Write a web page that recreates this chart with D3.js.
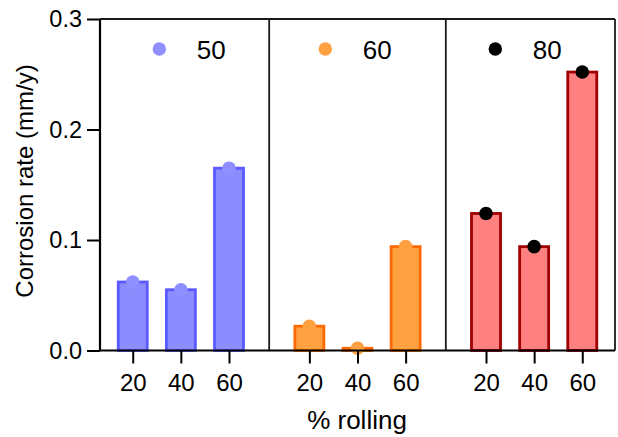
<!DOCTYPE html>
<html>
<head>
<meta charset="utf-8">
<script src="https://cdn.jsdelivr.net/npm/d3@7"></script>
<style>
  html, body { margin: 0; padding: 0; background: #fff; }
  svg { display: block; font-family: "Liberation Sans", Arial, Helvetica, sans-serif; }
</style>
</head>
<body>
<svg id="chart" width="618" height="437"></svg>
<script>
// Rolling reduction levels on the x axis, one group per temperature
const rolling = ["20", "40", "60"];
const temperatures = ["50", "60", "80"];

// Corrosion rate (mm/y) for each temperature group
const rate50 = [0.062, 0.055, 0.165];
const rate60 = [0.022, 0.002, 0.094];
const rate80 = [0.124, 0.094, 0.252];

const yTicks = [0, 0.1, 0.2, 0.3];

// Group styling
const styles = [
  { fill: "#8c8cff", stroke: "#5a5aff", dot: "#8f8fff" },
  { fill: "#ffa140", stroke: "#ff6a00", dot: "#ffa140" },
  { fill: "#ff8080", stroke: "#a00000", dot: "#000000" }
];

const series = [rate50, rate60, rate80];
const GROUP_STEP = 3.67;   // slot distance between groups (3 bars + gap)

const rows = [];
series.forEach((vals, g) => {
  vals.forEach((v, i) => rows.push({ group: g, idx: i, label: rolling[i], value: v, slot: g * GROUP_STEP + i }));
});

const svg = d3.select("#chart");
const plotL = 100, plotR = 615, plotT = 19, plotB = 350.5;

const x = d3.scaleLinear().domain([-0.68, 2 * GROUP_STEP + 2 + 0.68]).range([plotL, plotR]);
const y = d3.scaleLinear().domain([0, 0.3]).range([plotB, plotT]);
const barW = 29;

// Bars
svg.append("g").selectAll("rect").data(rows).join("rect")
  .attr("x", d => x(d.slot) - barW / 2)
  .attr("width", barW)
  .attr("y", d => y(d.value))
  .attr("height", d => y(0) - y(d.value))
  .attr("fill", d => styles[d.group].fill)
  .attr("stroke", d => styles[d.group].stroke)
  .attr("stroke-width", 2.8);

// Points at bar tops
svg.append("g").selectAll("circle").data(rows).join("circle")
  .attr("cx", d => x(d.slot))
  .attr("cy", d => y(d.value))
  .attr("r", 6.8)
  .attr("fill", d => styles[d.group].dot);

// Frame and group dividers
const frame = svg.append("g").attr("stroke", "#1a1a1a").attr("fill", "none");
frame.append("line").attr("x1", plotL).attr("x2", plotR).attr("y1", plotT).attr("y2", plotT).attr("stroke-width", 2);
frame.append("line").attr("x1", plotR).attr("x2", plotR).attr("y1", plotT).attr("y2", plotB).attr("stroke-width", 1.8);
[2 + (GROUP_STEP - 2) / 2, GROUP_STEP + 2 + (GROUP_STEP - 2) / 2].forEach(s => {
  frame.append("line").attr("x1", x(s)).attr("x2", x(s)).attr("y1", plotT).attr("y2", plotB).attr("stroke-width", 1.8);
});
frame.append("line").attr("x1", plotL).attr("x2", plotL).attr("y1", plotT).attr("y2", plotB).attr("stroke-width", 2.2).attr("stroke", "#000");
frame.append("line").attr("x1", plotL).attr("x2", plotR).attr("y1", plotB).attr("y2", plotB).attr("stroke-width", 2.2).attr("stroke", "#000");

// Y axis
const yAxis = svg.append("g").attr("transform", `translate(${plotL},0)`)
  .call(d3.axisLeft(y).tickValues(yTicks).tickFormat(d3.format(".1f")).tickSize(13).tickPadding(5));
yAxis.select(".domain").remove();
yAxis.selectAll(".tick line").attr("stroke", "#000").attr("stroke-width", 2);
yAxis.selectAll(".tick text").attr("font-size", 23.5).attr("fill", "#000")
  .attr("font-family", "'Liberation Sans', Arial, sans-serif");

// X axis
const xAxis = svg.append("g").attr("transform", `translate(0,${plotB})`)
  .call(d3.axisBottom(x).tickValues(rows.map(d => d.slot))
    .tickFormat((d, i) => rows[i].label).tickSize(13).tickPadding(10));
xAxis.select(".domain").remove();
xAxis.selectAll(".tick line").attr("stroke", "#000").attr("stroke-width", 2);
xAxis.selectAll(".tick text").attr("font-size", 24).attr("fill", "#000")
  .attr("font-family", "'Liberation Sans', Arial, sans-serif");

// Legend, one entry per group
const legendDotX = [159.3, 325.3, 495.3];
const legend = svg.append("g");
temperatures.forEach((t, g) => {
  legend.append("circle").attr("cx", legendDotX[g]).attr("cy", 49).attr("r", 6.7).attr("fill", styles[g].dot);
  legend.append("text").attr("x", legendDotX[g] + 37.5).attr("y", 58.5)
    .attr("font-size", 26).attr("fill", "#000").text(t);
});

// Axis titles
svg.append("text").attr("x", 357).attr("y", 428.5).attr("text-anchor", "middle")
  .attr("font-size", 26).attr("fill", "#000").text("% rolling");
svg.append("text").attr("transform", "translate(33,181) rotate(-90)").attr("text-anchor", "middle")
  .attr("font-size", 24).attr("fill", "#000").text("Corrosion rate (mm/y)");
</script>
</body>
</html>
